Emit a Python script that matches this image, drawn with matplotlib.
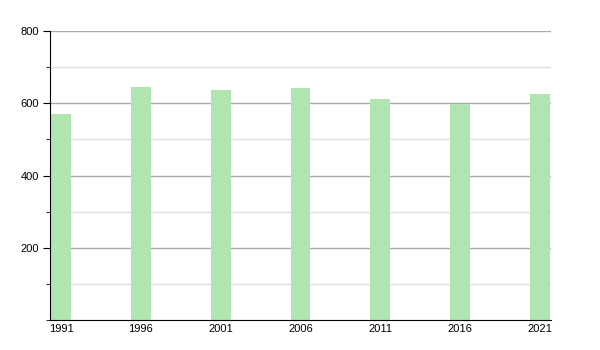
import matplotlib
matplotlib.use("Agg")
import matplotlib.pyplot as plt
from matplotlib.ticker import MultipleLocator

years = [1991, 1996, 2001, 2006, 2011, 2016, 2021]
population = [570, 645, 637, 642, 611, 599, 626]
y_ticks = [200, 400, 600, 800]

plt.rcParams['font.family'] = ['Liberation Sans', 'DejaVu Sans']

fig = plt.figure(figsize=(6, 3.5), dpi=100)
ax = fig.add_axes([50/600, 30/350, 501/600, 289/350])

ax.bar(years, population, width=1.25, color='#b0e5b0', zorder=2)

ax.set_ylim(0, 800)
ax.set_xlim(1991 - 11/16, 2021 + 11/16)
ax.set_yticks(y_ticks)
ax.yaxis.set_minor_locator(MultipleLocator(100))
ax.set_xticks(years)
ax.set_xticklabels([str(y) for y in years])

ax.grid(axis='y', which='major', color='#aaaaaa', linewidth=1, zorder=0)
ax.grid(axis='y', which='minor', color='#dddddd', linewidth=1, zorder=0)

for s in ['top', 'right']:
    ax.spines[s].set_visible(False)
ax.spines['left'].set_color('black')
ax.spines['bottom'].set_color('black')

ax.tick_params(axis='y', which='major', length=5, direction='out', labelsize=8, pad=3)
ax.tick_params(axis='y', which='minor', length=3, direction='out')
ax.tick_params(axis='x', length=0, labelsize=8, pad=3)

fig.savefig('out.png', dpi=100)
